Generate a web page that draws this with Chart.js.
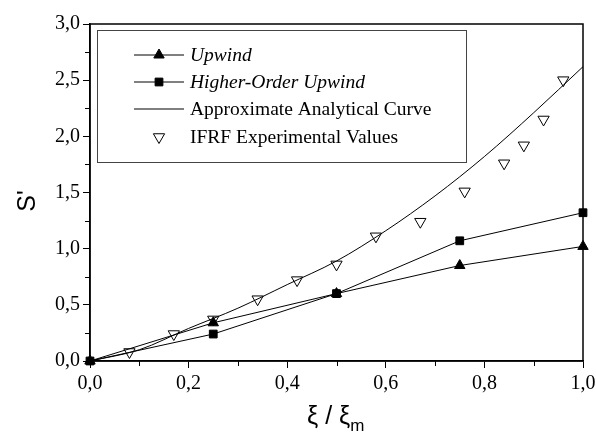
<!DOCTYPE html>
<html>
<head>
<meta charset="utf-8">
<script src="https://cdn.jsdelivr.net/npm/chart.js@4"></script>
<style>
  html, body { margin: 0; padding: 0; background: #fff; }
  #wrap { width: 596px; height: 435px; }
</style>
</head>
<body>
<div id="wrap"><canvas id="chart" width="596" height="435"></canvas></div>
<script>
// values
const schemeX = [0, 0.25, 0.5, 0.75, 1.0];
const upwindY = [0, 0.34, 0.60, 0.85, 1.02];
const higherY = [0, 0.24, 0.60, 1.07, 1.32];

const curveX = [0, 0.1, 0.2, 0.3, 0.4, 0.5, 0.6, 0.7, 0.8, 0.9, 1.0];
const curveY = [0, 0.10, 0.29, 0.47, 0.68, 0.89, 1.16, 1.47, 1.82, 2.21, 2.62];

const ifrfX = [0.08, 0.17, 0.25, 0.34, 0.42, 0.50, 0.58, 0.67, 0.76, 0.84, 0.88, 0.92, 0.96];
const ifrfY = [0.08, 0.24, 0.37, 0.55, 0.72, 0.86, 1.11, 1.24, 1.51, 1.76, 1.92, 2.15, 2.50];

const seriesNames = ["Upwind", "Higher-Order Upwind", "Approximate Analytical Curve", "IFRF Experimental Values"];
const xTicks = [0, 0.2, 0.4, 0.6, 0.8, 1.0];
const yTicks = [0, 0.5, 1.0, 1.5, 2.0, 2.5, 3.0];

function pts(xs, ys) {
  return xs.map((x, i) => ({ x: x, y: ys[i] }));
}
function isMajor(list, v) {
  return list.some(t => Math.abs(t - v) < 1e-6);
}
function fmt(v) {
  return v.toFixed(1).replace(".", ",");
}

const serif = "'Liberation Serif', 'Times New Roman', serif";
const sans = "'Liberation Sans', Arial, sans-serif";

// legend box, frame, minor ticks and axis titles
const decor = {
  id: "decor",
  afterDatasetsDraw(chart) {
    const ctx = chart.ctx;
    const a = chart.chartArea;
    const xs = chart.scales.x, ys = chart.scales.y;
    ctx.save();
    ctx.strokeStyle = "#000";
    ctx.lineWidth = 1.5;
    ctx.strokeRect(a.left, a.top, a.right - a.left, a.bottom - a.top);

    // minor ticks
    ctx.lineWidth = 1;
    ctx.beginPath();
    for (let v = 0.1; v < 1; v += 0.2) {
      const px = Math.round(xs.getPixelForValue(v)) + 0.5;
      ctx.moveTo(px, a.bottom);
      ctx.lineTo(px, a.bottom + 5);
    }
    for (let v = 0.25; v < 3; v += 0.5) {
      const py = Math.round(ys.getPixelForValue(v)) + 0.5;
      ctx.moveTo(a.left, py);
      ctx.lineTo(a.left - 5, py);
    }
    ctx.stroke();

    // legend
    const lx = 97, ly = 30, lw = 369, lh = 132;
    ctx.strokeStyle = "#444";
    ctx.lineWidth = 1;
    ctx.strokeRect(lx + 0.5, ly + 0.5, lw, lh);
    const rowY = [55, 82, 109, 137];
    chart.data.datasets.forEach((ds, i) => {
      const y = rowY[i];
      ctx.strokeStyle = "#000";
      ctx.lineWidth = 1;
      if (ds.showLine !== false) {
        ctx.beginPath();
        ctx.moveTo(134, y);
        ctx.lineTo(184, y);
        ctx.stroke();
      }
      if (ds.pointRadius > 0) {
        ctx.fillStyle = ds.pointBackgroundColor;
        ctx.strokeStyle = ds.pointBorderColor;
        Chart.helpers.drawPoint(ctx, {
          pointStyle: ds.pointStyle,
          rotation: ds.pointRotation || 0,
          radius: ds.pointRadius,
          borderWidth: ds.pointBorderWidth
        }, 159, y);
      }
      ctx.fillStyle = "#000";
      ctx.textBaseline = "middle";
      ctx.textAlign = "left";
      ctx.font = (i < 2 ? "italic " : "") + "19.5px " + serif;
      ctx.fillText(ds.label, 190, y + 1);
    });

    // axis titles
    ctx.fillStyle = "#000";
    ctx.font = "25px " + sans;
    ctx.textBaseline = "alphabetic";
    ctx.textAlign = "left";
    const main = "\u03be / \u03be";
    const w = ctx.measureText(main).width;
    const x0 = 307;
    ctx.fillText(main, x0, 424);
    ctx.font = "17px " + sans;
    ctx.fillText("m", x0 + w, 431);

    ctx.save();
    ctx.translate(35, 201);
    ctx.rotate(-Math.PI / 2);
    ctx.textAlign = "center";
    ctx.font = "25px " + sans;
    ctx.fillText("S'", 0, 0);
    ctx.restore();
    ctx.restore();
  }
};

new Chart(document.getElementById("chart"), {
  type: "scatter",
  data: {
    datasets: [
      {
        label: seriesNames[0],
        data: pts(schemeX, upwindY),
        showLine: true,
        borderColor: "#000",
        borderWidth: 1,
        pointStyle: "triangle",
        pointRadius: 6,
        pointBackgroundColor: "#000",
        pointBorderColor: "#000",
        pointBorderWidth: 1,
        clip: false
      },
      {
        label: seriesNames[1],
        data: pts(schemeX, higherY),
        showLine: true,
        borderColor: "#000",
        borderWidth: 1,
        pointStyle: "rect",
        pointRadius: 5.5,
        pointBackgroundColor: "#000",
        pointBorderColor: "#000",
        pointBorderWidth: 1,
        clip: false
      },
      {
        label: seriesNames[2],
        data: pts(curveX, curveY),
        showLine: true,
        borderColor: "#000",
        borderWidth: 1,
        pointRadius: 0,
        cubicInterpolationMode: "monotone",
        clip: false
      },
      {
        label: seriesNames[3],
        data: pts(ifrfX, ifrfY),
        showLine: false,
        pointStyle: "triangle",
        pointRotation: 180,
        pointRadius: 6.5,
        pointBackgroundColor: "rgba(255,255,255,0)",
        pointBorderColor: "#000",
        pointBorderWidth: 1,
        clip: false
      }
    ]
  },
  options: {
    responsive: false,
    animation: false,
    layout: { padding: { left: 0, right: 13, top: 24, bottom: 0 } },
    plugins: { legend: { display: false }, tooltip: { enabled: false } },
    scales: {
      x: {
        type: "linear",
        min: 0,
        max: 1,
        afterFit: s => { s.height = 74; s.paddingRight = 0; s.paddingLeft = 0; },
        ticks: {
          stepSize: 0.1,
          autoSkip: false,
          maxRotation: 0,
          padding: 4,
          color: "#000",
          font: { family: serif, size: 20 },
          callback: v => isMajor(xTicks, v) ? fmt(v) : ""
        },
        grid: {
          drawOnChartArea: false,
          tickLength: 7,
          tickWidth: 1,
          tickColor: c => isMajor(xTicks, c.tick.value) ? "#000" : "rgba(0,0,0,0)"
        },
        border: { display: true, color: "#000", width: 1.5 }
      },
      y: {
        type: "linear",
        min: 0,
        max: 3,
        afterFit: s => { s.width = 90; },
        ticks: {
          stepSize: 0.25,
          autoSkip: false,
          padding: 3,
          color: "#000",
          font: { family: serif, size: 20 },
          callback: v => isMajor(yTicks, v) ? fmt(v) : ""
        },
        grid: {
          drawOnChartArea: false,
          tickLength: 7,
          tickWidth: 1,
          tickColor: c => isMajor(yTicks, c.tick.value) ? "#000" : "rgba(0,0,0,0)"
        },
        border: { display: true, color: "#000", width: 1.5 }
      }
    }
  },
  plugins: [decor]
});
</script>
</body>
</html>
